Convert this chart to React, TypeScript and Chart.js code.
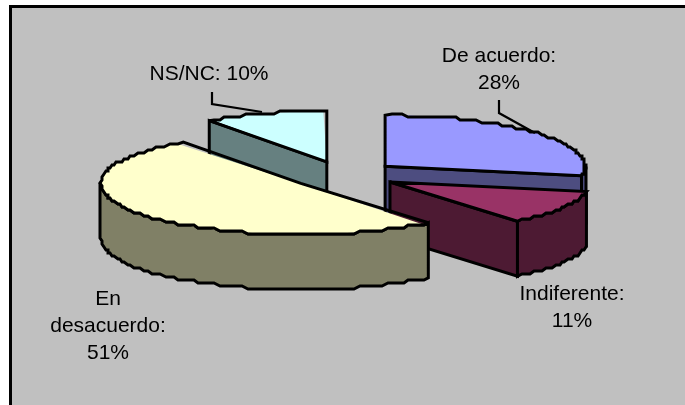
import React, { useEffect, useRef } from "react";
import { Chart, registerables } from "chart.js";

Chart.register(...registerables);

const categories = ["De acuerdo", "Indiferente", "En desacuerdo", "NS/NC"];
const shares = [28, 11, 51, 10];
const topColors = ["#9999FF", "#993366", "#FFFFCC", "#CCFFFF"];
const wallColors = ["#4D4D80", "#4D1A33", "#808066", "#668080"];
// Line breaks of each label
const labelLines = [
  ["De acuerdo:", "28%"],
  ["Indiferente:", "11%"],
  ["En", "desacuerdo:", "51%"],
  ["NS/NC: 10%"],
];
const labelCentres = [499, 572, 108, 209];
const labelBaselines = [62, 300, 305, 80];
const labelLeading = 27;
const leaders = [
  [[499, 100], [499, 113], [535, 133]],
  null,
  null,
  [[212, 92], [212, 104], [262, 112]],
];

const SQUASH = 0.255;
const DEPTH = 55;
const OFFSET_PX = 54;
const RADIUS = 200;
const SAMPLE = 6;
const GRID_X = 2;
const GRID_Y = 3;
const PAINT_ORDER = [3, 0, 1, 2];
const FONT = '21px "Liberation Sans", Arial, sans-serif';

const pie3d = {
  id: "pie3d",
  beforeDatasetsDraw(chart: any) {
    const ctx: CanvasRenderingContext2D = chart.ctx;
    const arcs = chart.getDatasetMeta(0).data;

    ctx.save();
    ctx.fillStyle = "#FFFFFF";
    ctx.fillRect(0, 0, chart.width, chart.height);
    ctx.fillStyle = "#000000";
    ctx.fillRect(9, 5, chart.width - 9, chart.height - 5);
    ctx.fillStyle = "#C0C0C0";
    ctx.fillRect(12, 8, chart.width - 12, chart.height - 8);
    ctx.restore();

    ctx.lineWidth = 3;
    ctx.lineJoin = "miter";
    ctx.miterLimit = 2.5;
    ctx.strokeStyle = "#000000";

    PAINT_ORDER.forEach((i) => {
      const arc = arcs[i];
      const { x, y, startAngle, endAngle, outerRadius, circumference } = arc.getProps(
        ["x", "y", "startAngle", "endAngle", "outerRadius", "circumference"],
        true
      );
      const half = (startAngle + endAngle) / 2;
      const off = (arc.options.offset || 0) / 4;
      const r = outerRadius;
      const ax = x + Math.cos(half) * off;
      const ay = y + Math.sin(half) * off * SQUASH;
      const pt = (a: number): [number, number] => [
        ax + Math.cos(a) * r,
        ay + Math.sin(a) * r * SQUASH,
      ];
      const steps = Math.max(2, Math.ceil(((endAngle - startAngle) * r) / SAMPLE));
      const rim: [number, number][] = [];
      const frontRim: [number, number][] = [];
      for (let s = 0; s <= steps; s++) {
        const a = startAngle + ((endAngle - startAngle) * s) / steps;
        const p = pt(a);
        const q: [number, number] =
          s === 0 || s === steps
            ? p
            : [Math.round(p[0] / GRID_X) * GRID_X, Math.round(p[1] / GRID_Y) * GRID_Y];
        rim.push(q);
        if (Math.sin(a) >= 0) frontRim.push(q);
      }

      // side walls
      ctx.fillStyle = wallColors[i];
      const quad = (p: [number, number]) => {
        ctx.beginPath();
        ctx.moveTo(ax, ay);
        ctx.lineTo(p[0], p[1]);
        ctx.lineTo(p[0], p[1] + DEPTH);
        ctx.lineTo(ax, ay + DEPTH);
        ctx.closePath();
        ctx.fill();
        ctx.stroke();
      };
      if (-Math.cos(startAngle) > 1e-6) quad(pt(startAngle));
      if (Math.cos(endAngle) > 1e-6) quad(pt(endAngle));
      if (frontRim.length > 1) {
        ctx.beginPath();
        frontRim.forEach((p, n) => (n ? ctx.lineTo(p[0], p[1]) : ctx.moveTo(p[0], p[1])));
        for (let n = frontRim.length - 1; n >= 0; n--) {
          ctx.lineTo(frontRim[n][0], frontRim[n][1] + DEPTH);
        }
        ctx.closePath();
        ctx.fill();
        ctx.stroke();
      }

      // top face, filled by the library's own arc element under a squash.
      // The element widens its radius by a share of its offset; cancel that share here.
      const widen = off * (1 - Math.sin(Math.min(Math.PI, circumference)));
      arc.outerRadius = r - widen;
      ctx.save();
      ctx.translate(x, y);
      ctx.scale(1, SQUASH);
      ctx.translate(-x, -y);
      arc.draw(ctx);
      ctx.restore();
      arc.outerRadius = r;

      ctx.beginPath();
      ctx.moveTo(ax, ay);
      rim.forEach((p) => ctx.lineTo(p[0], p[1]));
      ctx.closePath();
      ctx.stroke();
    });

    // leader lines and labels
    ctx.save();
    ctx.lineWidth = 2.2;
    ctx.lineJoin = "miter";
    leaders.forEach((pts) => {
      if (!pts) return;
      ctx.beginPath();
      pts.forEach((p, n) => (n ? ctx.lineTo(p[0], p[1]) : ctx.moveTo(p[0], p[1])));
      ctx.stroke();
    });
    ctx.fillStyle = "#000000";
    ctx.font = FONT;
    ctx.textAlign = "center";
    ctx.textBaseline = "alphabetic";
    labelLines.forEach((lines, i) => {
      lines.forEach((line, n) => {
        ctx.fillText(line, labelCentres[i], labelBaselines[i] + n * labelLeading);
      });
    });
    ctx.restore();
    return false;
  },
};

export default function App() {
  const ref = useRef<HTMLCanvasElement>(null);
  useEffect(() => {
    const chart = new Chart(ref.current as HTMLCanvasElement, {
      type: "pie",
      data: {
        labels: categories,
        datasets: [
          {
            data: shares,
            backgroundColor: topColors,
            borderWidth: 0,
            offset: OFFSET_PX * 4,
            clip: false,
          } as any,
        ],
      },
      options: {
        animation: false,
        responsive: false,
        radius: RADIUS,
        layout: { padding: { left: 2, bottom: 55 } },
        plugins: { legend: { display: false }, tooltip: { enabled: false } },
      } as any,
      plugins: [pie3d as any],
    });
    return () => chart.destroy();
  }, []);
  return (
    <canvas
      ref={ref}
      width={685}
      height={405}
      style={{ position: "fixed", left: 0, top: 0, width: 685, height: 405, display: "block" }}
    />
  );
}
